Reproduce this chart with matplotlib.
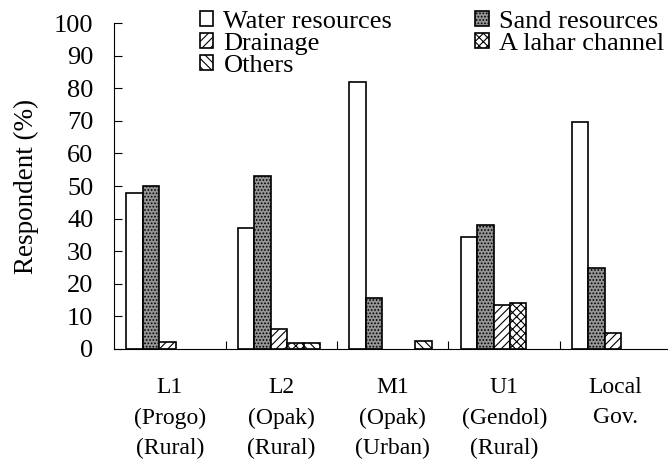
import numpy as np
import matplotlib.pyplot as plt

plt.rcParams['font.family'] = ['Liberation Serif', 'DejaVu Serif']
plt.rcParams['hatch.linewidth'] = 0.8

# data
sites = ['L1\n(Progo)\n(Rural)', 'L2\n(Opak)\n(Rural)', 'M1\n(Opak)\n(Urban)',
         'U1\n(Gendol)\n(Rural)', 'Local\nGov.']
water = [48, 37, 82, 34.5, 69.5]
sand = [50, 53, 15.5, 38, 24.7]
drainage = [2, 6.2, 0, 13.5, 5]
lahar = [0, 1.8, 0, 14.2, 0]
others = [0, 1.8, 2.5, 0, 0]

series = [
    ('Water resources', water, 'white', ''),
    ('Sand resources', sand, '#959595', '.....'),
    ('Drainage', drainage, 'white', '////'),
    ('A lahar channel', lahar, 'white', 'xxxx'),
    ('Others', others, 'white', '\\\\\\\\'),
]

fig = plt.figure(figsize=(6.68, 4.61), dpi=100)
ax = fig.add_axes([0.171, 0.243, 0.829, 0.707])

x = np.arange(len(sites))
w = 0.148
bars = {}
for k, (name, vals, fc, hatch) in enumerate(series):
    pos = x - 0.392 + w / 2 + k * w
    heights = np.array(vals, dtype=float)
    keep = heights > 0
    b = ax.bar(pos[keep], heights[keep], width=w, facecolor=fc, edgecolor='black',
               hatch=hatch, linewidth=1.2, label=name)
    bars[name] = b

ax.set_ylim(0, 100)
ax.set_xlim(-0.5, 4.47)
ax.set_yticks(range(0, 101, 10))
ax.tick_params(axis='y', direction='in', length=6, width=0.8, labelsize=19, pad=15)
ax.set_xticks(x)
ax.set_xticklabels(sites, fontsize=17, linespacing=1.6)
ax.tick_params(axis='x', which='major', length=0, pad=20)
ax.set_xticks([0.5, 1.5, 2.5, 3.5], minor=True)
ax.tick_params(axis='x', which='minor', direction='in', length=6, width=0.8)

for s in ['top', 'right']:
    ax.spines[s].set_visible(False)
for s in ['left', 'bottom']:
    ax.spines[s].set_linewidth(0.8)

ax.set_ylabel('Respondent (%)', fontsize=19.5, labelpad=11)

order = ['Water resources', 'Drainage', 'Others', 'Sand resources', 'A lahar channel']
fig.legend([bars[n] for n in order], order, ncol=2, loc='upper left',
           bbox_to_anchor=(0.299, 0.977), frameon=False, fontsize=19,
           borderpad=0, borderaxespad=0, labelspacing=0.0,
           handlelength=0.5, handleheight=0.5, handletextpad=0.4,
           columnspacing=3.15)

fig.savefig('out.png', dpi=100)
